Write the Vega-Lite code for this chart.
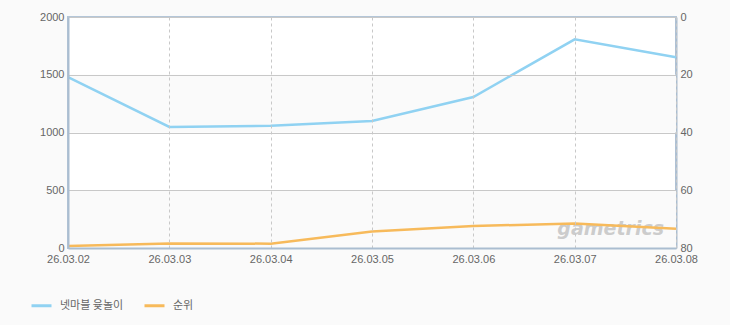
{
  "$schema": "https://vega.github.io/schema/vega-lite/v6.json",
  "width": 608,
  "height": 231,
  "autosize": {"type": "none"},
  "padding": {"left": 68, "top": 17, "right": 54, "bottom": 77},
  "background": "#fafafa",
  "config": {
    "view": {"fill": "#ffffff", "stroke": "#b4c6d8", "strokeWidth": 2},
    "axis": {"labelColor": "#666666", "labelFontSize": 11, "labelFont": "Liberation Sans", "ticks": false, "domainColor": "#aabdd0", "domainWidth": 2, "title": null}
  },
  "data": {"values": [
    {"date": "26.03.02", "users": 1480, "rank": 79.3},
    {"date": "26.03.03", "users": 1048, "rank": 78.4},
    {"date": "26.03.04", "users": 1058, "rank": 78.5},
    {"date": "26.03.05", "users": 1100, "rank": 74.3},
    {"date": "26.03.06", "users": 1307, "rank": 72.4},
    {"date": "26.03.07", "users": 1807, "rank": 71.5},
    {"date": "26.03.08", "users": 1651, "rank": 73.3}
  ]},
  "layer": [
    {
      "data": {"values": [{"lo": 1000, "hi": 1500}, {"lo": 0, "hi": 500}]},
      "mark": {"type": "rect", "fill": "#fafafa"},
      "encoding": {
        "y": {"field": "lo", "type": "quantitative", "scale": {"domain": [0, 2000]}, "axis": null},
        "y2": {"field": "hi"}
      }
    },
    {
      "mark": {"type": "line", "strokeWidth": 2.5},
      "encoding": {
        "x": {"field": "date", "type": "ordinal", "scale": {"type": "point", "padding": 0}, "axis": {"labelAngle": 0, "grid": true, "gridDash": [3, 3], "gridColor": "#c8c8c8", "labelPadding": 5, "domain": true, "zindex": 1}},
        "y": {"field": "users", "type": "quantitative", "scale": {"domain": [0, 2000]}, "axis": {"orient": "left", "values": [0, 500, 1000, 1500, 2000], "format": "d", "grid": true, "gridColor": "#c8c8c8", "labelPadding": 4, "zindex": 1}},
        "color": {"datum": "넷마블 윷놀이", "type": "nominal", "scale": {"domain": ["넷마블 윷놀이", "순위"], "range": ["#90d2f2", "#f7ba5b"]},
          "legend": {"orient": "none", "legendX": -38, "legendY": 277, "direction": "horizontal", "title": null, "symbolType": "stroke", "symbolStrokeWidth": 3, "symbolSize": 400, "labelFont": "Noto Sans CJK KR", "labelFontSize": 11, "labelColor": "#666666", "labelOffset": 7, "columnPadding": 14}}
      }
    },
    {
      "data": {"values": [{"label": "gametrics", "date": "26.03.07", "rank": 73.5}]},
      "mark": {"type": "text", "font": "DejaVu Sans", "fontSize": 19, "fontStyle": "italic", "fontWeight": "bold", "color": "#bdbdbd", "opacity": 0.75, "dx": 36, "baseline": "middle", "align": "center"},
      "encoding": {
        "x": {"field": "date", "type": "ordinal", "scale": {"type": "point", "padding": 0}},
        "y": {"field": "rank", "type": "quantitative", "scale": {"domain": [0, 80], "reverse": true}, "axis": null},
        "text": {"field": "label"}
      }
    },
    {
      "mark": {"type": "line", "strokeWidth": 2.5},
      "encoding": {
        "x": {"field": "date", "type": "ordinal", "scale": {"type": "point", "padding": 0}},
        "y": {"field": "rank", "type": "quantitative", "scale": {"domain": [0, 80], "reverse": true}, "axis": {"orient": "right", "values": [0, 20, 40, 60, 80], "grid": false, "labelPadding": 4}},
        "color": {"datum": "순위", "type": "nominal"}
      }
    }
  ],
  "resolve": {"scale": {"y": "independent"}}
}
